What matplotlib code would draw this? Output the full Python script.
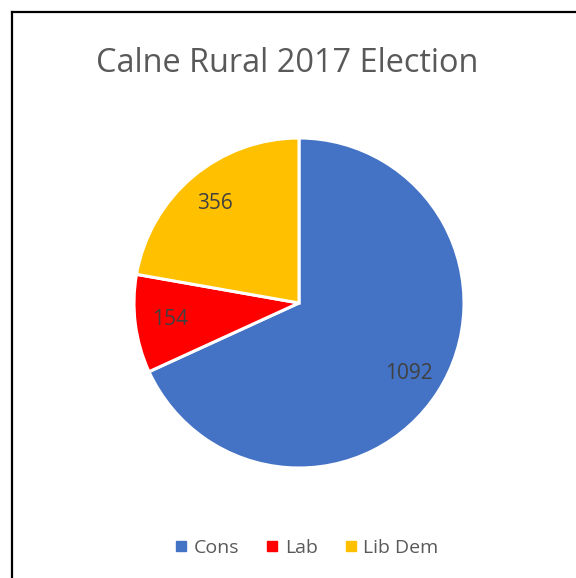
import matplotlib
matplotlib.use("Agg")
import matplotlib.pyplot as plt
from matplotlib.lines import Line2D

categories = ["Cons", "Lab", "Lib Dem"]
votes = [1092, 154, 356]
colors = ["#4472C4", "#FF0000", "#FFC000"]
title = "Calne Rural 2017 Election"

plt.rcParams['font.family'] = ['Open Sans', 'DejaVu Sans']

W, H = 576, 578
fig = plt.figure(figsize=(W / 100, H / 100), dpi=100)

# frame border (only left and top edges visible in the crop)
bx, by = 11.5 / W, 1 - 11.5 / H
fig.add_artist(Line2D([bx, bx], [0, by], transform=fig.transFigure,
                      color="black", linewidth=1.6))
fig.add_artist(Line2D([bx, 1], [by, by], transform=fig.transFigure,
                      color="black", linewidth=1.6))

cx, cy, r = 299, 303, 165
ax = fig.add_axes([(cx - r) / W, (H - cy - r) / H, 2 * r / W, 2 * r / H])
wedges, texts, autotexts = ax.pie(
    votes, colors=colors, startangle=90, counterclock=False,
    autopct=lambda p: f"{round(p * sum(votes) / 100):d}",
    pctdistance=0.79,
    wedgeprops=dict(edgecolor="white", linewidth=2.2),
    textprops=dict(color="#404040", fontsize=15))
ax.set_xlim(-1, 1)
ax.set_ylim(-1, 1)
ax.set_aspect("equal")

fig.text(287.5 / W, 1 - 64 / H, title, ha="center", va="center",
         fontsize=23.4, color="#595959")

handles = [Line2D([], [], marker="s", linestyle="none", markersize=7,
                  markerfacecolor=c, markeredgecolor=c) for c in colors]
fig.legend(handles, categories, loc="center", bbox_to_anchor=(306 / W, 1 - 548 / H),
           ncol=3, frameon=False, fontsize=14, labelcolor="#595959",
           handletextpad=0.25, columnspacing=1.3, handlelength=0.8)

fig.savefig("out.png", dpi=100)
